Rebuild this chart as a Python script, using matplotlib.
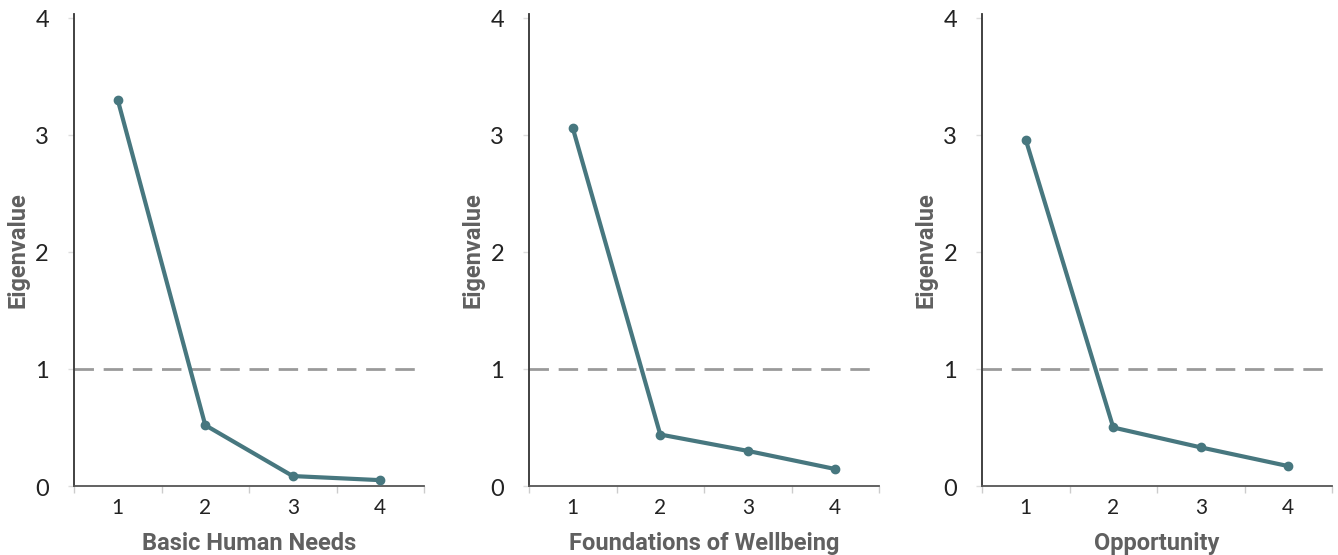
import matplotlib.pyplot as plt
import matplotlib.transforms as mtransforms
import numpy as np

# Scree plots: eigenvalues for the four components of each dimension
components = [1, 2, 3, 4]
basic_needs = [3.30, 0.52, 0.085, 0.05]
wellbeing = [3.06, 0.44, 0.30, 0.145]
opportunity = [2.96, 0.50, 0.33, 0.17]
panel_titles = ['Basic Human Needs', 'Foundations of Wellbeing', 'Opportunity']
y_ticks = [0, 1, 2, 3, 4]
cutoff = 1

line_color = '#47777f'
label_color = '#606060'
tick_font = ['Lato', 'DejaVu Sans']
title_font = ['Roboto', 'DejaVu Sans']

fig = plt.figure(figsize=(13.38, 5.55), dpi=100)

lefts = [74 / 1338, 529 / 1338, 982 / 1338]
width = 350 / 1338
bottom = 1 - 486 / 555
height = (486 - 14) / 555

# nudge the y tick labels a few pixels below their ticks
ytick_shift = mtransforms.ScaledTranslation(0, -3 / 100, fig.dpi_scale_trans)

for left, values, title in zip(lefts, [basic_needs, wellbeing, opportunity], panel_titles):
    ax = fig.add_axes([left, bottom, width, height])
    ax.plot(components, values, color=line_color, linewidth=3,
            marker='o', markersize=6, solid_capstyle='round', zorder=3)
    ax.axhline(cutoff, color='#9a9a9a', linewidth=2, linestyle=(0, (7, 3.5)),
               zorder=2)

    ax.set_xlim(0.5, 4.5)
    ax.set_ylim(0, 4.034)

    ax.set_xticks(components)
    ax.set_xticklabels([str(c) for c in components])
    ax.set_xticks(np.arange(0.5, 4.6, 1), minor=True)
    ax.tick_params(axis='x', which='major', length=0, pad=9, labelsize=15,
                   labelcolor='#222222')
    ax.tick_params(axis='x', which='minor', length=5, width=1, color='#cccccc')
    for lbl in ax.get_xticklabels():
        lbl.set_family(tick_font)

    ax.set_yticks(y_ticks)
    ax.tick_params(axis='y', length=4, width=1, color='#dddddd', pad=14,
                   labelsize=17, labelcolor='#222222')
    for lbl in ax.get_yticklabels():
        lbl.set_family(tick_font)
        lbl.set_verticalalignment('center')
        lbl.set_transform(lbl.get_transform() + ytick_shift)

    for side in ['top', 'right']:
        ax.spines[side].set_visible(False)
    ax.spines['left'].set_color('#333333')
    ax.spines['left'].set_linewidth(1.3)
    ax.spines['bottom'].set_color('#555555')
    ax.spines['bottom'].set_linewidth(1.3)

    ax.set_xlabel(title, fontsize=17, fontweight='bold', color=label_color,
                  family=title_font, labelpad=10)
    ax.set_ylabel('Eigenvalue', fontsize=17, fontweight='bold', color=label_color,
                  family=title_font, labelpad=4)

fig.savefig('out.png', dpi=100)
